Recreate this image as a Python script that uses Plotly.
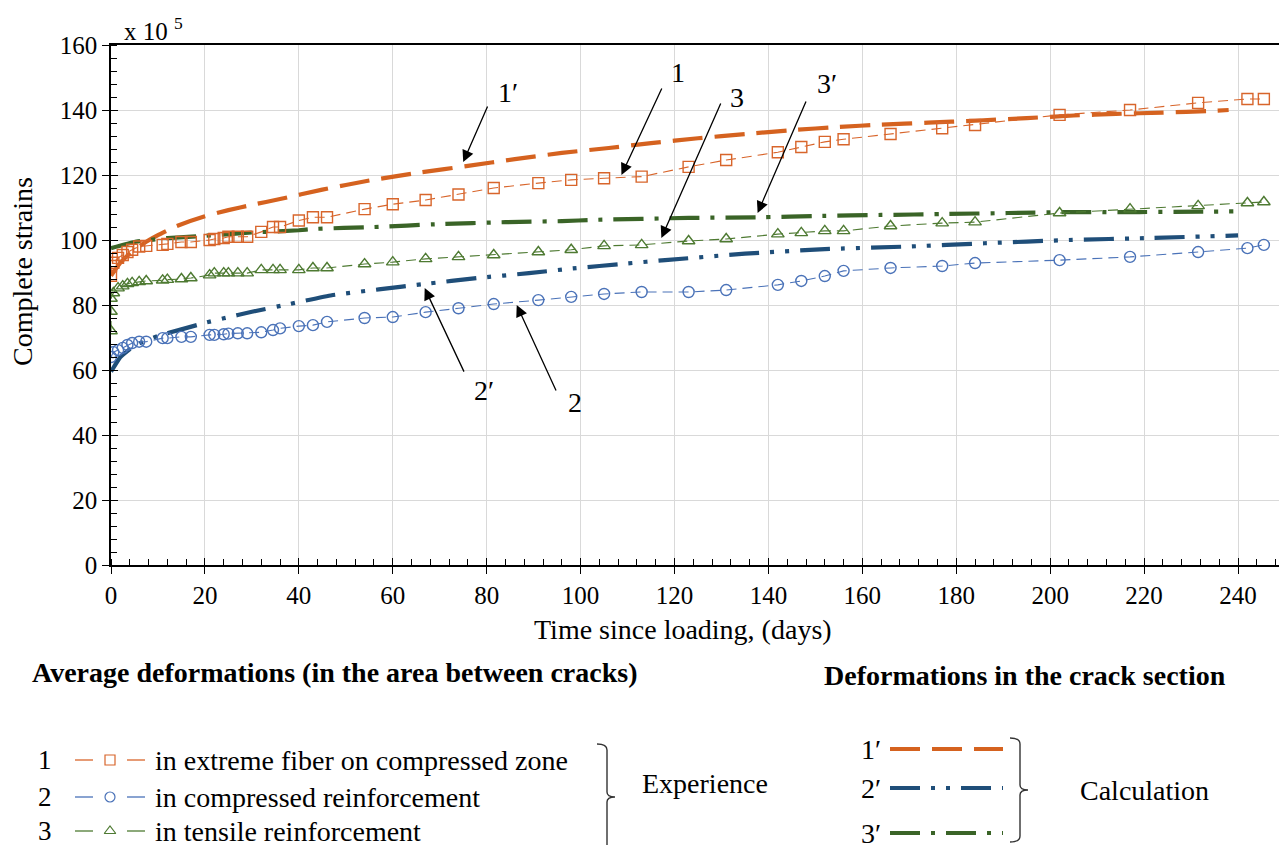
import plotly.graph_objects as go

# ---------------- data ----------------
days_1 = [0, 0, 0.5, 1.5, 2.5, 3.5, 4.5, 6, 7.5, 11, 12, 15, 17, 21, 22, 24, 25, 27, 29, 32, 34.5, 36,
          40, 43, 46, 54, 60, 67, 74, 81.5, 91, 98, 105, 113, 123, 131, 142, 147, 152, 156, 166, 177,
          184, 202, 217, 231.5, 242, 245.5]
strain_1 = [89, 92, 93, 94.5, 95.4, 96.3, 97, 98, 98.2, 98.5, 98.8, 99.4, 99.4, 100, 100.3, 100.6, 101,
            101, 101, 102.5, 104, 104, 106, 107, 107, 109.5, 111, 112.3, 114, 116, 117.5, 118.5, 119,
            119.5, 122.5, 124.6, 127, 128.6, 130.2, 131, 132.6, 134.4, 135.4, 138.5, 140, 142.2, 143.4,
            143.4]

days_2 = [0, 0.5, 1.5, 2.5, 3.5, 4.5, 6, 7.5, 11, 12, 15, 17, 21, 22, 24, 25, 27, 29, 32, 34.5, 36,
          40, 43, 46, 54, 60, 67, 74, 81.5, 91, 98, 105, 113, 123, 131, 142, 147, 152, 156, 166, 177,
          184, 202, 217, 231.5, 242, 245.5]
strain_2 = [64, 65.5, 66.1, 66.8, 67.7, 68.3, 68.7, 68.7, 69.8, 69.8, 70.2, 70.2, 70.8, 70.8, 71, 71.2,
            71.3, 71.3, 71.6, 72.3, 72.8, 73.5, 73.8, 74.8, 76, 76.3, 77.8, 79, 80.3, 81.5, 82.5, 83.4,
            84, 84, 84.6, 86.2, 87.4, 88.9, 90.5, 91.4, 92, 92.9, 93.8, 94.8, 96.3, 97.5, 98.5]

days_3 = [0, 0, 0, 0.5, 1.5, 2.5, 3.5, 4.5, 6, 7.5, 11, 12, 15, 17, 21, 22, 24, 25, 27, 29, 32, 34.5,
          36, 40, 43, 46, 54, 60, 67, 74, 81.5, 91, 98, 105, 113, 123, 131, 142, 147, 152, 156, 166,
          177, 184, 202, 217, 231.5, 242, 245.5]
strain_3 = [72, 78, 82, 83.7, 85.2, 85.8, 86.5, 86.8, 87.1, 87.4, 87.6, 87.8, 88, 88.3, 89.2, 89.8,
            89.8, 89.8, 89.8, 89.8, 90.8, 90.8, 90.8, 90.8, 91.4, 91.4, 92.6, 93.2, 94.2, 94.8, 95.4,
            96.3, 97, 98.2, 98.5, 99.7, 100.3, 101.8, 102.2, 102.8, 102.8, 104.3, 105.2, 105.5, 108.3,
            109.5, 110.5, 111.4, 111.7]

calc_days_1 = [0, 2, 4, 7, 10, 14, 20, 25, 30, 36, 45, 55, 66, 76, 86, 96, 106, 115, 125, 135, 145,
               155, 164, 174, 184, 195, 205, 214, 224, 234, 238]
calc_1 = [89, 93, 95.8, 99, 101.5, 104.3, 107.3, 109.2, 110.8, 112.6, 115.5, 118.3, 120.8, 122.8, 124.9,
          126.8, 128.3, 129.8, 131.3, 132.6, 133.8, 134.8, 135.5, 136.1, 136.7, 137.5, 138.3, 138.8,
          139.2, 139.7, 140]

calc_days_2 = [0, 2, 5, 10, 15, 20, 24, 30, 37, 47, 57, 67, 78, 89, 98, 110, 118, 135, 152, 170, 186,
               204, 221, 240]
calc_2 = [59.5, 64, 67.5, 70.5, 72.5, 74.5, 75.9, 77.9, 80, 83, 84.8, 86.5, 88.3, 89.8, 91.2, 92.8,
          93.8, 95.8, 97.2, 98, 99, 100, 100.6, 101.4]

calc_days_3 = [0, 5, 12, 19, 30, 40, 43, 56, 70, 84, 96, 103, 123, 138, 151, 164, 178, 191, 205, 219,
               232, 239]
calc_3 = [97.5, 99.4, 100.6, 101.2, 102.3, 103, 103.4, 104, 104.9, 105.5, 105.8, 106.2, 106.8, 107,
          107.4, 107.7, 108, 108.3, 108.6, 108.6, 108.7, 108.8]

x_ticks = [0, 20, 40, 60, 80, 100, 120, 140, 160, 180, 200, 220, 240]
y_ticks = [0, 20, 40, 60, 80, 100, 120, 140, 160]

exp_labels = ["in extreme fiber on compressed zone", "in compressed reinforcement", "in tensile reinforcement"]
exp_nums = ["1", "2", "3"]
calc_nums = ["1\u2032", "2\u2032", "3\u2032"]

# ---------------- styles ----------------
W, H = 1287, 845
OFF = 8  # page body margin
FONT = "Liberation Serif, Times New Roman, Times, serif"
ORANGE = "#D8652B"
ORANGE_C = "#D5621F"
BLUE = "#4A72B8"
BLUE_C = "#1F4E79"
GREEN = "#4E7A32"
GREEN_C = "#3A6427"
EXP_DASH = "10px,6px"
DASH_1 = "30px,12px"
DASH_2 = "30px,11px,4px,11px,4px,11px"
DASH_3 = "30px,11px,4px,11px"


def px(x):
    return (x - OFF) / W


def py(y):
    return 1 - (y - OFF) / H


fig = go.Figure()

# calculation curves
for xs, ys, col, dash in [(calc_days_1, calc_1, ORANGE_C, DASH_1),
                          (calc_days_2, calc_2, BLUE_C, DASH_2),
                          (calc_days_3, calc_3, GREEN_C, DASH_3)]:
    fig.add_trace(go.Scatter(x=xs, y=ys, mode="lines", line=dict(color=col, width=4.2, dash=dash,
                                                                  shape="spline", smoothing=0.3),
                             showlegend=False, hoverinfo="skip"))

# experimental series
for xs, ys, col, sym in [(days_1, strain_1, ORANGE, "square-open"),
                         (days_2, strain_2, BLUE, "circle-open"),
                         (days_3, strain_3, GREEN, "triangle-up-open")]:
    fig.add_trace(go.Scatter(x=xs, y=ys, mode="lines+markers",
                             line=dict(color=col, width=1.1, dash=EXP_DASH),
                             marker=dict(symbol=sym, size=11, color=col, line=dict(color=col, width=1.4)),
                             showlegend=False, hoverinfo="skip"))

# invisible trace for overlay tick axes
fig.add_trace(go.Scatter(x=[0], y=[0], xaxis="x3", yaxis="y3", mode="markers",
                         marker=dict(opacity=0), showlegend=False, hoverinfo="skip"))

# ---------------- legend keys (auxiliary page-pixel axes) ----------------
leg_rows_exp = [760, 797, 831]
leg_rows_calc = [749, 788, 833]
for (col, sym), yrow in zip([(ORANGE, "square-open"), (BLUE, "circle-open"), (GREEN, "triangle-up-open")],
                            leg_rows_exp):
    fig.add_trace(go.Scatter(x=[75, 93, None, 127, 145], y=[yrow, yrow, None, yrow, yrow], xaxis="x2",
                             yaxis="y2", mode="lines", line=dict(color=col, width=1.3),
                             showlegend=False, hoverinfo="skip"))
    fig.add_trace(go.Scatter(x=[110], y=[yrow], xaxis="x2", yaxis="y2", mode="markers",
                             marker=dict(symbol=sym, size=10, color=col, line=dict(color=col, width=1.2)),
                             showlegend=False, hoverinfo="skip"))
for (col, dash), yrow in zip([(ORANGE_C, DASH_1), (BLUE_C, DASH_2), (GREEN_C, DASH_3)], leg_rows_calc):
    fig.add_trace(go.Scatter(x=[890, 1003], y=[yrow, yrow], xaxis="x2", yaxis="y2", mode="lines",
                             line=dict(color=col, width=4, dash=dash),
                             showlegend=False, hoverinfo="skip"))

# ---------------- annotations ----------------
ann = []


def text(x, y, s, size=27, xanchor="center", bold=False, angle=0):
    if bold:
        s = "<b>" + s + "</b>"
    ann.append(dict(x=px(x), y=py(y), xref="paper", yref="paper", text=s, showarrow=False,
                    xanchor=xanchor, yanchor="middle", textangle=angle,
                    font=dict(family=FONT, size=size, color="black")))


text(122, 29, "x 10 <sup>5</sup>", size=25, xanchor="left")
text(22, 272, "Complete strains", size=28, angle=-90)
text(683, 629, "Time since loading, (days)", size=28)
text(30, 672, "Average deformations (in the area between cracks)", size=28, xanchor="left", bold=True)
text(822, 675, "Deformations in the crack section", size=28, xanchor="left", bold=True)

for n, lab, yrow in zip(exp_nums, exp_labels, leg_rows_exp):
    text(45, yrow, n, size=27)
    text(153, yrow, lab, size=28, xanchor="left")
text(640, 783, "Experience", size=28, xanchor="left")
for n, yrow in zip(calc_nums, leg_rows_calc):
    text(871, yrow, n, size=28)
text(1078, 790, "Calculation", size=28, xanchor="left")

# curve labels and arrows (head in data coords, tail offset in px)
arrows = [(75, 124, 25, -57), (108.7, 120, 41, -88), (117.2, 100.6, 60, -136),
          (137.7, 108.3, 49, -113), (66.8, 85.2, 40, 85), (86.4, 80, 40, 87)]
for hx, hy, ax, ay in arrows:
    ann.append(dict(x=hx, y=hy, xref="x", yref="y", ax=ax, ay=ay, axref="pixel", ayref="pixel",
                    text="", showarrow=True, arrowhead=2, arrowsize=1.8, arrowwidth=1.3,
                    arrowcolor="black", standoff=0))
for lx, ly, s in [(508, 93, "1\u2032"), (678, 73, "1"), (737, 97, "3"), (827, 83, "3\u2032"),
                  (484, 390, "2\u2032"), (575, 403, "2")]:
    text(lx, ly, s, size=28)

# brackets
shapes = [
    dict(type="path", xref="x2", yref="y2",
         path="M 597,744 Q 607,744 607,750 L 607,792 Q 607,797 615,797 Q 607,797 607,802 L 607,860",
         line=dict(color="#333333", width=1.4)),
    dict(type="path", xref="x2", yref="y2",
         path="M 1010,738 Q 1020,738 1020,744 L 1020,785 Q 1020,790 1028,790 Q 1020,790 1020,795 "
              "L 1020,836 Q 1020,842 1010,842",
         line=dict(color="#333333", width=1.4)),
]

tickfont = dict(family=FONT, size=25, color="black")
fig.update_layout(
    width=W, height=H, template="none",
    margin=dict(l=0, r=0, t=0, b=0),
    paper_bgcolor="white", plot_bgcolor="white",
    font=dict(family=FONT, color="black"),
    showlegend=False,
    annotations=ann, shapes=shapes,
    xaxis=dict(domain=[px(111), px(1285)], range=[0, 250], tickvals=x_ticks, ticktext=[str(v) for v in x_ticks],
               showgrid=True, gridcolor="#D9D9D9", gridwidth=1.2, zeroline=False,
               showline=True, linecolor="black", linewidth=1.6, mirror=True,
               ticks="outside", ticklen=7, tickwidth=1.4, tickcolor="black",
               minor=dict(dtick=4, tick0=0, ticks="inside", ticklen=6, tickwidth=1.2, tickcolor="black",
                          showgrid=False),
               tickfont=tickfont, anchor="y", automargin=False, fixedrange=True),
    yaxis=dict(domain=[py(565), py(45)], range=[0, 160], tickvals=y_ticks, ticktext=[str(v) for v in y_ticks],
               showgrid=True, gridcolor="#D9D9D9", gridwidth=1.2, zeroline=False,
               showline=True, linecolor="black", linewidth=1.6, mirror=True,
               ticks="outside", ticklen=7, tickwidth=1.4, tickcolor="black",
               minor=dict(dtick=4, tick0=0, ticks="inside", ticklen=6, tickwidth=1.2, tickcolor="black",
                          showgrid=False),
               tickfont=tickfont, anchor="x", automargin=False, fixedrange=True),
    xaxis3=dict(domain=[px(111), px(1285)], range=[0, 250], overlaying="x", anchor="y3", tickvals=x_ticks,
                showticklabels=False, showgrid=False, zeroline=False, showline=False,
                ticks="inside", ticklen=7, tickwidth=1.4, tickcolor="black", automargin=False, fixedrange=True),
    yaxis3=dict(domain=[py(565), py(45)], range=[0, 160], overlaying="y", anchor="x3", tickvals=y_ticks,
                showticklabels=False, showgrid=False, zeroline=False, showline=False,
                ticks="inside", ticklen=7, tickwidth=1.4, tickcolor="black", automargin=False, fixedrange=True),
    xaxis2=dict(domain=[0, 1], range=[OFF, OFF + W], visible=False, anchor="y2", fixedrange=True),
    yaxis2=dict(domain=[0, py(725)], range=[OFF + H, 725], visible=False, anchor="x2", fixedrange=True),
)

fig.write_html("out.html")
